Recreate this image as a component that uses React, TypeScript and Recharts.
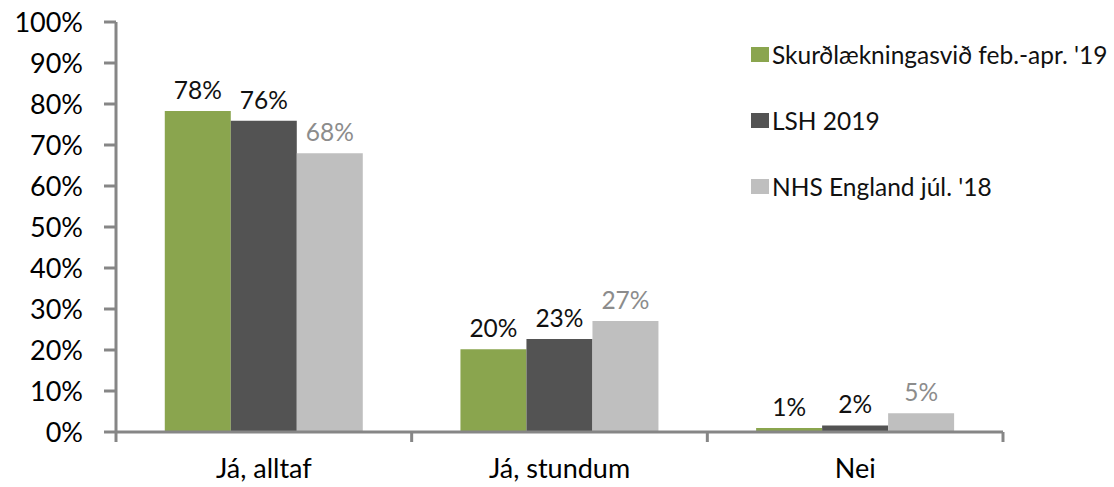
import { BarChart, Bar, XAxis, YAxis, Legend, LabelList } from "recharts";

const categories = ["Já, alltaf", "Já, stundum", "Nei"];
const skurd = [78.3, 20.2, 1.0];
const lsh = [75.9, 22.7, 1.6];
const nhs = [68.0, 27.1, 4.6];
const yTicks = [0, 10, 20, 30, 40, 50, 60, 70, 80, 90, 100];

const series = [
  { key: "skurd", name: "Skurðlækningasvið feb.-apr. '19", color: "#8aa54e", label: "#111111" },
  { key: "lsh", name: "LSH 2019", color: "#535353", label: "#111111" },
  { key: "nhs", name: "NHS England júl. '18", color: "#bfbfbf", label: "#8c8c8c" },
];

const data = categories.map((c, i) => ({ cat: c, skurd: skurd[i], lsh: lsh[i], nhs: nhs[i] }));

const AXIS = "#868686";
const FONT = "Lato, sans-serif";

// category labels sit centred; tick marks go on the category edges
function CatTick(props: any) {
  const { x, y, payload, index, visibleTicksCount } = props;
  const half = payload?.offset ?? 0;
  const last = index === visibleTicksCount - 1;
  return (
    <g>
      <line x1={x - half} y1={y} x2={x - half} y2={y + 10} stroke={AXIS} strokeWidth={3} />
      {last && <line x1={x + half} y1={y} x2={x + half} y2={y + 10} stroke={AXIS} strokeWidth={3} />}
      <text x={x} y={y + 46} textAnchor="middle" fontSize={27} fill="#000">
        {payload.value}
      </text>
    </g>
  );
}

function LegendBox() {
  return (
    <div style={{ fontFamily: FONT }}>
      {series.map((s) => (
        <div key={s.key} style={{ display: "flex", alignItems: "center", height: 66 }}>
          <span style={{ display: "inline-block", width: 18, height: 15, background: s.color, marginRight: 3 }} />
          <span style={{ fontSize: 24.5, color: "#111" }}>{s.name}</span>
        </div>
      ))}
    </div>
  );
}

export default function App() {
  return (
    <div style={{ position: "absolute", left: 0, top: 0, fontFamily: FONT }}>
      <BarChart
        width={1114}
        height={487}
        data={data}
        margin={{ top: 22, right: 111, bottom: 0, left: 0 }}
        barCategoryGap="16.5%"
        barGap={0}
      >
        <XAxis
          dataKey="cat"
          height={55}
          tickSize={0}
          tickMargin={0}
          axisLine={{ stroke: AXIS, strokeWidth: 3 }}
          tickLine={false}
          tick={<CatTick />}
          interval={0}
        />
        <YAxis
          width={116}
          domain={[0, 100]}
          ticks={yTicks}
          interval={0}
          tickFormatter={(v) => `${v}%`}
          tickSize={12}
          tickMargin={21}
          axisLine={{ stroke: AXIS, strokeWidth: 3 }}
          tickLine={{ stroke: AXIS, strokeWidth: 3 }}
          tick={{ fontSize: 27, fill: "#000" }}
        />
        <Legend
          layout="vertical"
          align="center"
          verticalAlign="middle"
          content={<LegendBox />}
          wrapperStyle={{ left: 751, top: 21, width: 363 }}
        />
        {series.map((s) => (
          <Bar key={s.key} dataKey={s.key} name={s.name} fill={s.color} isAnimationActive={false}>
            <LabelList
              dataKey={s.key}
              position="top"
              offset={12}
              formatter={(v: any) => `${Math.round(Number(v))}%`}
              style={{ fontSize: 24.5, fill: s.label }}
            />
          </Bar>
        ))}
      </BarChart>
    </div>
  );
}
